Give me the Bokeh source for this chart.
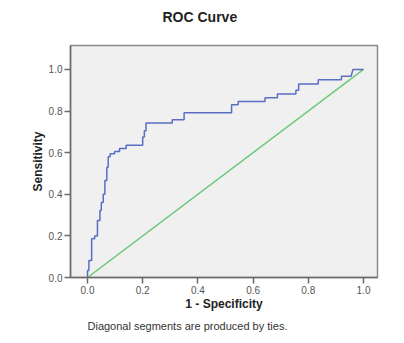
from bokeh.plotting import figure
from bokeh.models import Range1d, FixedTicker, Title
from bokeh.embed import file_html
from bokeh.resources import INLINE

# ROC curve points (1 - specificity, sensitivity)
fpr = [0, 0, 0.005, 0.005, 0.015, 0.015, 0.026, 0.026, 0.036, 0.036, 0.045, 0.045,
       0.05, 0.05, 0.057, 0.057, 0.063, 0.063, 0.07, 0.07, 0.075, 0.075, 0.082, 0.082,
       0.098, 0.098, 0.116, 0.116, 0.14, 0.14, 0.2, 0.2, 0.206, 0.206, 0.212, 0.212,
       0.307, 0.307, 0.35, 0.35, 0.522, 0.522, 0.546, 0.546, 0.643, 0.643, 0.688, 0.688,
       0.755, 0.755, 0.765, 0.765, 0.836, 0.836, 0.92, 0.92, 0.955, 0.962, 1.0]
tpr = [0, 0.034, 0.034, 0.082, 0.082, 0.186, 0.186, 0.2, 0.2, 0.274, 0.274, 0.322,
       0.322, 0.36, 0.36, 0.40, 0.40, 0.466, 0.466, 0.53, 0.53, 0.58, 0.58, 0.595,
       0.595, 0.605, 0.605, 0.62, 0.62, 0.636, 0.636, 0.675, 0.675, 0.705, 0.705, 0.742,
       0.742, 0.758, 0.758, 0.792, 0.792, 0.83, 0.83, 0.846, 0.846, 0.864, 0.864, 0.882,
       0.882, 0.9, 0.9, 0.93, 0.93, 0.95, 0.95, 0.967, 0.967, 1.0, 1.0]
ref_x = [0, 1]
ref_y = [0, 1]
ticks = [0.0, 0.2, 0.4, 0.6, 0.8, 1.0]
tick_labels = {0.0: "0.0", 0.2: "0.2", 0.4: "0.4", 0.6: "0.6", 0.8: "0.8", 1.0: "1.0"}

p = figure(width=404, height=343, output_backend="svg", toolbar_location=None,
           x_range=Range1d(-0.0616, 1.0507), y_range=Range1d(0, 1.115),
           min_border_left=70, min_border_right=27, min_border_top=45, min_border_bottom=66)

p.background_fill_color = "#f0f0f0"
p.border_fill_color = "white"
p.outline_line_color = "#8a8a8a"
p.outline_line_width = 1.5
p.xgrid.visible = False
p.ygrid.visible = False

p.line(ref_x, ref_y, line_color="#6cc979", line_width=1.5)
p.line(fpr, tpr, line_color="#5a6ec4", line_width=1.5)

for ax in (p.xaxis[0], p.yaxis[0]):
    ax.ticker = FixedTicker(ticks=ticks)
    ax.major_label_overrides = tick_labels
    ax.minor_tick_line_color = None
    ax.axis_line_color = "#6a6a6a"
    ax.axis_line_width = 1.5
    ax.major_tick_line_color = "#6a6a6a"
    ax.major_tick_line_width = 1.5
    ax.major_tick_out = 6
    ax.major_tick_in = 0
    ax.major_label_text_font = "Liberation Sans"
    ax.major_label_text_font_size = "10px"
    ax.major_label_text_color = "#555555"
    ax.major_label_standoff = 2
    ax.axis_label_text_font = "Liberation Sans"
    ax.axis_label_text_font_style = "bold"
    ax.axis_label_text_font_size = "12px"
    ax.axis_label_text_color = "#222222"

p.xaxis.axis_label = "1 - Specificity"
p.yaxis.axis_label = "Sensitivity"
p.xaxis.axis_label_standoff = 0
p.yaxis.axis_label_standoff = 1

# Title: second (empty) line lifts the visible text towards the top edge
p.title.text = "ROC Curve\n "
p.title.align = "left"
p.title.offset = 92
p.title.text_font = "Liberation Sans"
p.title.text_font_size = "14px"
p.title.text_font_style = "bold"
p.title.text_color = "#222222"
p.title.standoff = 10

foot = Title(text="Diagonal segments are produced by ties.", align="left", offset=17,
             text_font="Liberation Sans", text_font_size="11px",
             text_font_style="normal", text_color="#333333", standoff=8)
p.add_layout(foot, "below")

open("out.html", "w").write(file_html(p, INLINE))
